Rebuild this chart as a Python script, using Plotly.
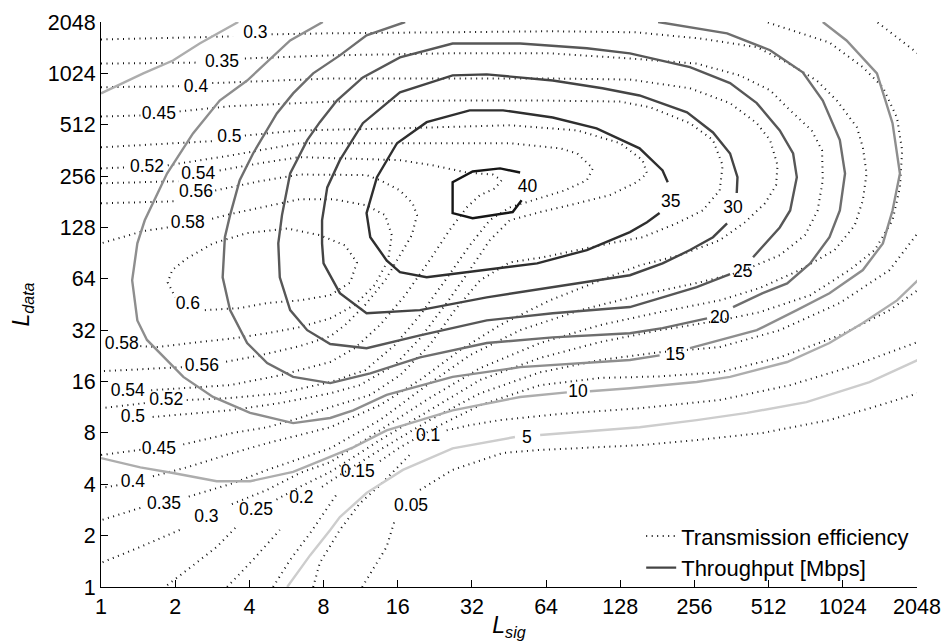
import math
import plotly.graph_objects as go

FONT = "Liberation Sans, Arial, Helvetica, sans-serif"

# Grid of signature / data lengths (powers of two)
tick_exps = list(range(12))
tick_vals = [2 ** k for k in tick_exps]
tick_text = [str(v) for v in tick_vals]

# ---------------------------------------------------------------------------
# Throughput contours [Mbps], traced as (log2 L_sig, log2 L_data) paths.
# None breaks a path where its inline level label sits.
# ---------------------------------------------------------------------------
tp40_lsig = [5.67, 5.55, 5.01, 4.74, 4.74, 5.01, 5.38, 5.65]
tp40_ldata = [7.53, 7.30, 7.18, 7.28, 7.88, 8.09, 8.15, 8.07]

tp35_lsig = [7.64, 7.57, 7.26, 6.68, 6.09, 5.42, 4.97, 4.39, 3.99, 3.72, 3.58,
             3.63, 3.85, 4.03, 4.39, 4.97, 5.88, 6.55, 7.13, 7.36, 7.53]
tp35_ldata = [7.88, 8.11, 8.54, 8.93, 9.14, 9.28, 9.28, 9.05, 8.64, 7.98, 7.28,
              6.81, 6.36, 6.13, 6.03, 6.13, 6.30, 6.56, 6.91, 7.10, 7.28]

tp30_lsig = [8.57, 8.58, 8.48, 8.25, 7.90, 7.26, 6.76, 6.09, 5.20, 4.74, 4.03,
             3.53, 3.22, 3.05, 2.98, 2.98, 3.00, 3.22, 3.58, 4.30, 5.20, 6.09,
             7.13, 7.57, 7.94, 8.25, 8.44]
tp30_ldata = [7.67, 7.98, 8.44, 8.85, 9.24, 9.57, 9.71, 9.86, 9.98, 9.96, 9.63,
              9.03, 8.31, 7.78, 7.14, 6.69, 6.30, 5.72, 5.33, 5.39, 5.64, 5.84,
              6.07, 6.30, 6.56, 6.81, 7.08]

tp25_lsig = [8.79, 9.15, 9.29, 9.38, 9.33, 9.15, 8.84, 8.48, 7.94, 7.13, 6.55,
             5.65, 4.74, 4.03, 3.53, 3.18, 2.95, 2.78, 2.55, 2.44, 2.39, 2.41,
             2.55, 2.78, 3.09, 3.58, 4.30, 5.20, 6.09, 7.13, 7.57, 8.03, 8.48]
tp25_ldata = [6.42, 7.00, 7.33, 7.98, 8.44, 8.89, 9.42, 9.81, 10.12, 10.39, 10.49,
              10.58, 10.58, 10.31, 9.92, 9.47, 9.05, 8.70, 8.05, 7.24, 6.69, 6.03,
              5.39, 5.00, 4.73, 4.65, 4.90, 5.19, 5.33, 5.45, 5.64, 5.84, 6.09]

tp20_lsig = [4.10, 3.58, 3.22, 2.86, 2.59, 2.37, 2.05, 1.87, 1.74, 1.67, 1.64,
             1.74, 1.97, 2.24, 2.59, 3.09, 3.63, 4.30, 5.20, 6.09, 7.13, 7.57,
             8.17, None,
             8.52, 8.92, 9.25, 9.56, 9.82, 9.96, 10.03, 9.96, 9.73, 9.46, 9.02,
             8.44, 7.51]
tp20_ldata = [11.0, 10.74, 10.35, 10.00, 9.61, 9.22, 8.44, 7.92, 7.24, 6.81, 6.03,
              5.39, 4.75, 4.36, 4.09, 3.97, 4.16, 4.47, 4.75, 4.86, 4.94, 5.04,
              5.23, None,
              5.45, 5.72, 5.91, 6.30, 6.81, 7.33, 8.05, 8.70, 9.47, 10.02, 10.45,
              10.78, 11.0]

tp15_lsig = [2.99, 2.55, 1.97, 1.60, 1.24, 0.89, 0.59, 0.49, 0.42, 0.49, 0.62,
             1.11, 1.51, 2.01, 2.59, 3.09, 3.40, 3.85, 4.74, 5.65, 7.13, 7.53,
             None,
             7.94, 8.84, 9.38, 9.82, 10.27, 10.54, 10.67, 10.77, 10.67, 10.46,
             10.05, 9.73]
tp15_ldata = [11.0, 10.64, 9.86, 9.47, 8.83, 8.05, 7.14, 6.69, 5.97, 5.19, 4.81,
              4.09, 3.70, 3.39, 3.19, 3.29, 3.44, 3.74, 4.09, 4.28, 4.42, 4.51,
              None,
              4.65, 5.00, 5.39, 5.72, 6.17, 6.69, 7.33, 8.05, 9.03, 10.00,
              10.64, 11.0]

tp10_lsig = [0.0, 0.57, 0.97, 1.33, 1.85, None,
             0.0, 0.53, 0.97, 1.56, 2.01, 2.59, 2.98, 3.40, 3.85, 4.74, 5.65,
             6.28, None,
             6.59, 7.13, 8.03, 8.48, 9.25, 9.82, 10.27, 10.73, 11.01]
tp10_ldata = [9.61, 10.00, 10.25, 10.58, 11.0, None,
              2.51, 2.33, 2.22, 2.06, 2.06, 2.24, 2.47, 2.72, 3.05, 3.44, 3.70,
              3.79, None,
              3.81, 3.87, 3.99, 4.09, 4.38, 4.75, 5.14, 5.58, 5.97]

tp5_lsig = [2.51, 2.82, 3.09, 3.22, 3.58, 4.07, 4.74, 5.58, None,
            5.92, 6.77, 7.26, 8.03, 8.71, 9.51, 10.36, 11.01]
tp5_ldata = [0.0, 0.62, 1.11, 1.36, 1.83, 2.28, 2.70, 2.92, None,
             2.96, 3.05, 3.11, 3.25, 3.39, 3.60, 3.99, 4.42]

tp_label_text = ["40", "35", "30", "25", "20", "15", "10", "5"]
tp_label_lsig = [5.75, 7.68, 8.52, 8.65, 8.34, 7.74, 6.43, 5.74]
tp_label_ldata = [7.78, 7.49, 7.37, 6.13, 5.23, 4.51, 3.79, 2.88]

# ---------------------------------------------------------------------------
# Transmission-efficiency contours, same units.
# ---------------------------------------------------------------------------
ef60_lsig = [1.40, 1.87, 2.24, 2.68, 3.09, 3.36, 3.45, 3.29, 2.95, 2.51, 1.97,
             1.51, 1.16, 0.96, 0.90, 1.00]
ef60_ldata = [5.39, 5.43, 5.53, 5.58, 5.68, 5.93, 6.32, 6.65, 6.85, 6.98, 6.89,
              6.69, 6.40, 6.17, 5.93, 5.64]

ef58_lsig = [0.53, 0.75, 1.33, 1.78, 2.24, 2.68, 3.09, 3.42, 3.69, 3.87, 3.92,
             3.83, 3.58, 3.13, 2.68, 2.28, 1.74, 1.47, None, 0.90, 0.57, 0.0]
ef58_ldata = [4.69, 4.67, 4.77, 4.84, 4.94, 5.06, 5.23, 5.49, 5.88, 6.36, 6.85,
              7.24, 7.43, 7.55, 7.55, 7.43, 7.26, 7.16, None, 7.00, 6.93, 6.69]

ef56_lsig = [0.0, 1.02, None,
             1.54, 2.14, 2.68, 3.58, 3.76, 4.03, 4.20, 4.26, 4.19, 4.03, 3.83,
             3.56, 3.29, 3.09, 2.68, 2.14, 1.67, None,
             1.09, 0.53, 0.0]
ef56_ldata = [7.47, 7.51, None,
              7.72, 7.90, 8.03, 8.02, 7.92, 7.72, 7.47, 7.24, 6.85, 6.46, 5.97,
              5.49, 5.10, 4.88, 4.69, 4.51, 4.38, None,
              4.28, 4.24, 4.20]

ef54_lsig = [0.0, 1.04, None,
             1.60, 2.14, 2.68, 4.03, 4.47, 4.93, 5.28, 5.40, 5.31, 5.11, 4.93,
             4.70, 4.43, 4.10, 3.76, 3.42, 3.09, 2.41, 1.74, 0.66]
ef54_ldata = [7.86, 7.90, None,
              8.11, 8.25, 8.37, 8.31, 8.21, 8.07, 8.03, 7.92, 7.76, 7.63, 7.39,
              6.95, 6.36, 5.68, 5.10, 4.65, 4.38, 4.12, 3.93, 3.83]

ef52_lsig = [0.0, 0.32, None,
             0.90, 1.74, 2.68, 4.03, 5.51, 6.19, 6.42, 6.63, 6.55, 6.25, 5.96,
             5.51, 5.24, 4.97, 4.64, 4.30, 3.96, 3.56, 3.09, 2.41, 1.74, 1.13,
             None, 0.59, 0.0]
ef52_ldata = [8.15, 8.17, None,
              8.21, 8.40, 8.64, 8.64, 8.64, 8.54, 8.44, 8.15, 7.92, 7.72, 7.59,
              7.39, 7.14, 6.65, 5.97, 5.29, 4.71, 4.22, 3.99, 3.77, 3.68, 3.64,
              None, 3.58, 3.48]

ef50_lsig = [0.0, 1.50, None,
             1.94, 2.68, 4.03, 5.51, 6.42, 7.00, 7.30, 7.36, 7.22, 6.86, 6.42,
             5.92, 5.51, 5.24, 4.97, 4.64, 4.30, 3.96, 3.49, 3.09, 2.41, 1.74,
             0.69]
ef50_ldata = [8.56, 8.68, None,
              8.79, 8.89, 8.93, 8.99, 8.89, 8.64, 8.31, 8.05, 7.88, 7.63, 7.47,
              7.30, 7.14, 6.75, 6.17, 5.49, 4.84, 4.32, 3.93, 3.77, 3.58, 3.44,
              3.31]

ef45_lsig = [0.0, 0.53, None,
             1.06, 1.74, 3.09, 4.70, 6.05, 7.00, 7.40, 7.94, 8.25, 8.38, 8.34,
             8.11, 7.76, 7.30, 6.86, 5.96, 5.51, 5.11, 4.77, 4.43, 4.03, 3.63,
             3.09, 2.68, 2.24, 1.78, 1.06, None,
             0.53, 0.0]
ef45_ldata = [9.16, 9.18, None,
              9.26, 9.36, 9.45, 9.47, 9.47, 9.45, 9.34, 9.03, 8.70, 8.21, 7.72,
              7.33, 7.08, 6.81, 6.69, 6.42, 6.32, 5.97, 5.39, 4.71, 4.12, 3.74,
              3.50, 3.29, 3.11, 3.00, 2.76, None,
              2.67, 2.57]

ef40_lsig = [0.0, 1.06, None,
             1.50, 3.09, 4.70, 6.05, 7.13, 7.94, 8.48, 8.84, 9.02, 9.12, 9.10,
             8.95, 8.68, 8.34, 7.80, 7.26, 6.73, 6.05, 5.38, 4.84, 4.30, 3.76,
             3.09, 2.24, 1.78, 1.16, 0.66, None,
             0.22, 0.0]
ef40_ldata = [9.73, 9.75, None,
              9.81, 9.90, 9.90, 9.90, 9.88, 9.71, 9.42, 9.03, 8.70, 8.21, 7.82,
              7.47, 7.10, 6.75, 6.46, 6.26, 5.97, 5.58, 5.10, 4.61, 4.03, 3.54,
              3.11, 2.80, 2.61, 2.33, 2.14, None,
              1.98, 1.93]

ef35_lsig = [0.0, 1.33, None,
             1.94, 3.09, 4.70, 6.05, 7.13, 8.03, 8.61, 9.02, 9.29, 9.58, 9.72,
             9.73, 9.66, 9.49, 9.15, 8.61, 8.07, 7.26, 6.46, 5.65, 4.97, 4.30,
             3.76, 3.09, 2.24, 1.78, 1.16, None,
             0.53, 0.0]
ef35_ldata = [10.19, 10.21, None,
              10.29, 10.35, 10.39, 10.39, 10.29, 10.19, 9.96, 9.67, 9.28, 8.89,
              8.50, 7.92, 7.33, 6.85, 6.46, 6.13, 5.93, 5.68, 5.39, 5.00, 4.51,
              3.83, 3.25, 2.70, 2.28, 2.02, 1.75, None,
              1.54, 1.30]

ef30_lsig = [0.0, 1.78, None,
             2.30, 3.09, 4.70, 6.05, 7.20, 8.07, 8.84, 9.25, 9.65, 9.92, 10.19,
             10.27, 10.32, 10.27, 10.16, 9.89, 9.42, 8.88, 8.34, 7.53, 6.73,
             5.92, 5.11, 4.43, 3.76, 3.09, 2.68, 2.24, 1.74, None,
             1.06, 0.53, 0.0]
ef30_ldata = [10.66, 10.72, None,
              10.76, 10.78, 10.80, 10.82, 10.80, 10.68, 10.51, 10.21, 9.86, 9.47,
              8.95, 8.56, 8.05, 7.53, 7.04, 6.56, 6.17, 5.82, 5.58, 5.35, 5.10,
              4.75, 4.26, 3.68, 3.05, 2.43, 2.22, 1.89, 1.60, None,
              1.11, 0.78, 0.47]

ef25_lsig = [8.99, 9.82, 10.27, 10.54, 10.73, 10.80, 10.77, 10.67, 10.43, 10.09,
             9.56, 8.88, 8.34, 7.53, 6.73, 5.92, 5.11, 4.43, 3.76, 3.09, 2.68,
             2.35, None, 1.81, 1.56, 1.16, 0.86]
ef25_ldata = [10.99, 10.60, 10.12, 9.73, 9.14, 8.50, 7.78, 7.14, 6.56, 6.17,
              5.68, 5.35, 5.19, 5.00, 4.77, 4.46, 4.03, 3.44, 2.86, 2.24, 1.95,
              1.69, None, 1.15, 0.78, 0.33, 0.0]

ef20_lsig = [10.47, 11.01, None, 1.70, 2.05, 2.41, None,
             2.98, 3.09, 3.76, 4.43, 5.11, 5.92, 6.73, 7.53, 8.34, 9.15, 9.96,
             10.63, 11.01]
ef20_ldata = [10.99, 10.39, None, 0.0, 0.53, 1.11, None,
              1.95, 2.06, 2.67, 3.25, 3.77, 4.18, 4.42, 4.57, 4.67, 5.00, 5.53,
              6.17, 6.89]

ef15_lsig = [2.32, 2.55, 2.82, 3.17, None,
             3.76, 4.03, 4.57, 5.11, 5.92, 6.73, 7.53, 8.34, 9.15, 9.96, 10.63,
             11.01]
ef15_ldata = [0.0, 0.53, 1.05, 1.79, None,
              2.45, 2.72, 3.15, 3.54, 3.93, 4.07, 4.10, 4.18, 4.47, 4.90, 5.39,
              5.78]

ef10_lsig = [2.86, 2.95, 3.22, 3.49, 3.76, 4.16, None,
             4.66, 4.97, 5.38, 6.19, 7.26, 8.34, 9.29, 10.09, 11.01]
ef10_ldata = [0.0, 0.47, 1.11, 1.63, 1.98, 2.57, None,
              3.05, 3.15, 3.25, 3.37, 3.48, 3.64, 3.93, 4.28, 4.77]

ef05_lsig = [3.52, 3.85, 3.96, None,
             4.30, 4.74, 5.42, 5.92, 7.26, 8.03, 8.92, 9.82, 10.50, 11.01]
ef05_ldata = [0.0, 0.78, 1.30, None,
              1.89, 2.28, 2.61, 2.67, 2.76, 2.86, 3.00, 3.25, 3.54, 3.77]

ef_label_text = ["0.3", "0.35", "0.4", "0.45", "0.5", "0.52", "0.54", "0.56",
                 "0.58", "0.6", "0.58", "0.56", "0.54", "0.52", "0.5", "0.45",
                 "0.4", "0.35", "0.3", "0.25", "0.2", "0.15", "0.1", "0.05"]
ef_label_lsig = [2.08, 1.63, 1.28, 0.78, 1.73, 0.62, 1.31, 1.28, 1.17, 1.17,
                 0.28, 1.36, 0.36, 0.88, 0.43, 0.78, 0.43, 0.85, 1.42, 2.09,
                 2.70, 3.46, 4.41, 4.18]
ef_label_ldata = [10.78, 10.21, 9.73, 9.20, 8.74, 8.17, 8.03, 7.67, 7.08, 5.49,
                  4.71, 4.30, 3.81, 3.62, 3.29, 2.68, 2.04, 1.61, 1.36, 1.48,
                  1.73, 2.22, 2.92, 1.56]


def lengths(exps):
    """log2 exponents -> actual lengths (None kept as a path break)."""
    return [None if e is None else 2.0 ** e for e in exps]


eff_paths = [
    (ef60_lsig, ef60_ldata), (ef58_lsig, ef58_ldata), (ef56_lsig, ef56_ldata),
    (ef54_lsig, ef54_ldata), (ef52_lsig, ef52_ldata), (ef50_lsig, ef50_ldata),
    (ef45_lsig, ef45_ldata), (ef40_lsig, ef40_ldata), (ef35_lsig, ef35_ldata),
    (ef30_lsig, ef30_ldata), (ef25_lsig, ef25_ldata), (ef20_lsig, ef20_ldata),
    (ef15_lsig, ef15_ldata), (ef10_lsig, ef10_ldata), (ef05_lsig, ef05_ldata),
]

# throughput level -> (path, grey shade)
tp_paths = [
    (5, tp5_lsig, tp5_ldata, "#cdcdcd"),
    (10, tp10_lsig, tp10_ldata, "#adadad"),
    (15, tp15_lsig, tp15_ldata, "#8e8e8e"),
    (20, tp20_lsig, tp20_ldata, "#6e6e6e"),
    (25, tp25_lsig, tp25_ldata, "#575757"),
    (30, tp30_lsig, tp30_ldata, "#444444"),
    (35, tp35_lsig, tp35_ldata, "#2f2f2f"),
    (40, tp40_lsig, tp40_ldata, "#161616"),
]

fig = go.Figure()

for i, (xs, ys) in enumerate(eff_paths):
    fig.add_trace(go.Scatter(
        x=lengths(xs), y=lengths(ys), mode="lines",
        line=dict(color="#111111", width=2.0, dash="1px,4.5px"),
        name="Transmission efficiency", showlegend=(i == 0),
        connectgaps=False, hoverinfo="skip"))

for level, xs, ys, shade in tp_paths:
    fig.add_trace(go.Scatter(
        x=lengths(xs), y=lengths(ys), mode="lines",
        line=dict(color=shade, width=2.4),
        name="Throughput [Mbps]", showlegend=(level == 30),
        connectgaps=False, hoverinfo="skip"))

fig.add_trace(go.Scatter(
    x=lengths(ef_label_lsig), y=lengths(ef_label_ldata), mode="text",
    text=ef_label_text, textposition="middle center",
    textfont=dict(family=FONT, size=17.5, color="black"),
    showlegend=False, hoverinfo="skip"))

fig.add_trace(go.Scatter(
    x=lengths(tp_label_lsig), y=lengths(tp_label_ldata), mode="text",
    text=tp_label_text, textposition="middle center",
    textfont=dict(family=FONT, size=17.5, color="black"),
    showlegend=False, hoverinfo="skip"))

axis_common = dict(
    type="log",
    range=[0, math.log10(2048)],
    tickmode="array", tickvals=tick_vals, ticktext=tick_text,
    ticks="inside", ticklen=7, tickwidth=1, tickcolor="black",
    showline=True, linecolor="black", linewidth=1, mirror=False,
    showgrid=False, zeroline=False,
    tickfont=dict(family=FONT, size=21.5, color="black"),
    automargin=False,
)

fig.update_layout(
    template="none",
    width=944, height=641,
    margin=dict(l=101, r=27, t=22, b=54),
    paper_bgcolor="white", plot_bgcolor="white",
    font=dict(family=FONT, color="black"),
    xaxis=dict(axis_common,
               title=dict(text="<i>L</i><sub><i>sig</i></sub>",
                          font=dict(family=FONT, size=23), standoff=2)),
    yaxis=dict(axis_common,
               title=dict(text="<i>L</i><sub><i>data</i></sub>",
                          font=dict(family=FONT, size=23), standoff=11)),
    legend=dict(x=0.662, y=0.127, xanchor="left", yanchor="top",
                bgcolor="rgba(0,0,0,0)", borderwidth=0,
                font=dict(family=FONT, size=22, color="black"),
                itemwidth=30, tracegroupgap=0),
)

fig.write_html("out.html")
